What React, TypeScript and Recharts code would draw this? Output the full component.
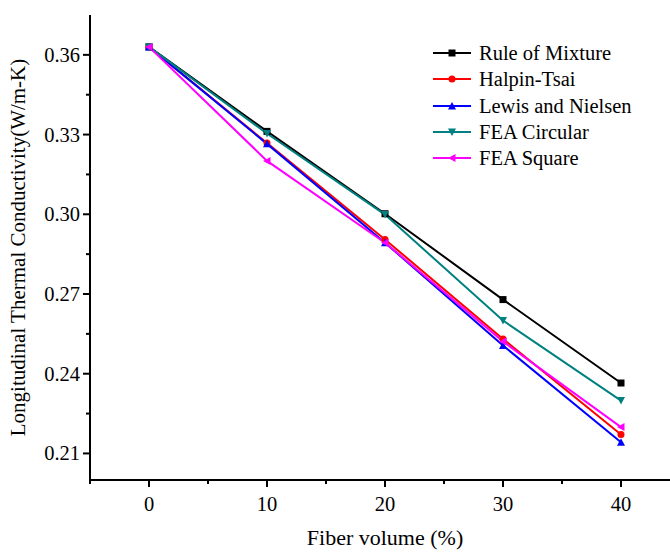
import { LineChart, Line, XAxis, YAxis, Legend } from 'recharts';

const fiberVolume = [0, 10, 20, 30, 40];
const ruleOfMixture = [0.363, 0.3312, 0.3002, 0.2679, 0.2365];
const halpinTsai = [0.363, 0.3268, 0.2905, 0.2531, 0.2171];
const lewisNielsen = [0.363, 0.3265, 0.2893, 0.2506, 0.2142];
const feaCircular = [0.363, 0.3304, 0.2999, 0.26, 0.2299];
const feaSquare = [0.363, 0.3201, 0.2893, 0.2521, 0.2199];

const xTicks = [-5, 0, 5, 10, 15, 20, 25, 30, 35, 40, 45];
const yTicks = [0.21, 0.225, 0.24, 0.255, 0.27, 0.285, 0.3, 0.315, 0.33, 0.345, 0.36];

const data = fiberVolume.map((v, i) => ({
  x: v,
  rom: ruleOfMixture[i],
  ht: halpinTsai[i],
  ln: lewisNielsen[i],
  fc: feaCircular[i],
  fs: feaSquare[i],
}));

const FONT = '"Liberation Serif", "Times New Roman", serif';

type Shape = 'square' | 'circle' | 'up' | 'down' | 'left';

const series: { key: string; name: string; color: string; shape: Shape }[] = [
  { key: 'rom', name: 'Rule of Mixture', color: '#000000', shape: 'square' },
  { key: 'ht', name: 'Halpin-Tsai', color: '#ff0000', shape: 'circle' },
  { key: 'ln', name: 'Lewis and Nielsen', color: '#0000ff', shape: 'up' },
  { key: 'fc', name: 'FEA Circular', color: '#008080', shape: 'down' },
  { key: 'fs', name: 'FEA Square', color: '#ff00ff', shape: 'left' },
];

const Marker = ({ cx, cy, color, shape }: { cx: number; cy: number; color: string; shape: Shape }) => {
  const s = 3.5;
  if (shape === 'square') return <rect x={cx - s} y={cy - s} width={s * 2} height={s * 2} fill={color} />;
  if (shape === 'circle') return <circle cx={cx} cy={cy} r={s} fill={color} />;
  if (shape === 'up') return <polygon points={`${cx},${cy - s - 0.5} ${cx - s - 0.5},${cy + s} ${cx + s + 0.5},${cy + s}`} fill={color} />;
  if (shape === 'down') return <polygon points={`${cx},${cy + s + 0.5} ${cx - s - 0.5},${cy - s} ${cx + s + 0.5},${cy - s}`} fill={color} />;
  return <polygon points={`${cx - s - 0.5},${cy} ${cx + s},${cy - s - 0.5} ${cx + s},${cy + s + 0.5}`} fill={color} />;
};

// ticks drawn by hand so minor ticks get no label
const XTick = ({ x, y, payload }: any) => {
  const major = payload.value % 10 === 0 && payload.value >= 0 && payload.value <= 40;
  return (
    <g>
      <line x1={x} y1={y} x2={x} y2={y + (major ? 7 : 4)} stroke="#000" strokeWidth={2} />
      {major && (
        <text x={x} y={y + 31} textAnchor="middle" fontSize={20.5} fontFamily={FONT} fill="#000">
          {payload.value}
        </text>
      )}
    </g>
  );
};

const YTick = ({ x, y, payload }: any) => {
  const major = Math.round(payload.value * 1000) % 30 === 0;
  return (
    <g>
      <line x1={x} y1={y} x2={x - (major ? 7 : 4)} y2={y} stroke="#000" strokeWidth={2} />
      {major && (
        <text x={x - 10} y={y + 7} textAnchor="end" fontSize={20.5} fontFamily={FONT} fill="#000">
          {payload.value.toFixed(2)}
        </text>
      )}
    </g>
  );
};

const LegendContent = () => (
  <div style={{ fontFamily: FONT, fontSize: 20.5, lineHeight: '26.3px', color: '#000' }}>
    {series.map((s) => (
      <div key={s.key} style={{ display: 'flex', alignItems: 'center', height: 26.3 }}>
        <svg width={46} height={14}>
          <line x1={0} y1={7} x2={38} y2={7} stroke={s.color} strokeWidth={2} />
          <Marker cx={19} cy={7} color={s.color} shape={s.shape} />
        </svg>
        <span>{s.name}</span>
      </div>
    ))}
  </div>
);

export default function App() {
  return (
    <div style={{ position: 'fixed', left: 0, top: 0, width: 670, height: 552, overflow: 'hidden', background: '#fff' }}>
      <LineChart width={700} height={552} data={data} margin={{ top: 15, right: 20, bottom: 0, left: 0 }}>
        <XAxis
          xAxisId="top"
          orientation="top"
          dataKey="x"
          type="number"
          domain={[-5, 45]}
          tick={false}
          tickLine={false}
          axisLine={{ stroke: '#000', strokeWidth: 2 }}
          height={0}
        />
        <XAxis
          dataKey="x"
          type="number"
          domain={[-5, 45]}
          ticks={xTicks}
          interval={0}
          tick={<XTick />}
          tickLine={false}
          tickSize={0}
          tickMargin={0}
          axisLine={{ stroke: '#000', strokeWidth: 2 }}
          height={72}
          label={{ value: 'Fiber volume (%)', position: 'insideBottom', offset: 7, fontSize: 22, fontFamily: FONT, fill: '#000' }}
        />
        <YAxis
          type="number"
          domain={[0.2, 0.375]}
          ticks={yTicks}
          interval={0}
          tick={<YTick />}
          tickLine={false}
          tickSize={0}
          tickMargin={0}
          axisLine={{ stroke: '#000', strokeWidth: 2 }}
          width={90}
          label={({ viewBox }: any) => (
            <text
              x={viewBox.x + 25}
              y={viewBox.y + viewBox.height / 2}
              transform={`rotate(-90, ${viewBox.x + 25}, ${viewBox.y + viewBox.height / 2})`}
              textAnchor="middle"
              fontSize={21}
              fontFamily={FONT}
              fill="#000"
            >
              Longitudinal Thermal Conductivity(W/m-K)
            </text>
          )}
        />
        <Legend
          layout="vertical"
          verticalAlign="middle"
          align="center"
          wrapperStyle={{ left: 433, top: 40, width: 236 }}
          content={<LegendContent />}
        />
        {series.map((s) => (
          <Line
            key={s.key}
            dataKey={s.key}
            name={s.name}
            stroke={s.color}
            strokeWidth={2}
            isAnimationActive={false}
            dot={(p: any) => <Marker key={`${s.key}-${p.index}`} cx={p.cx} cy={p.cy} color={s.color} shape={s.shape} />}
            activeDot={false}
          />
        ))}
      </LineChart>
    </div>
  );
}
